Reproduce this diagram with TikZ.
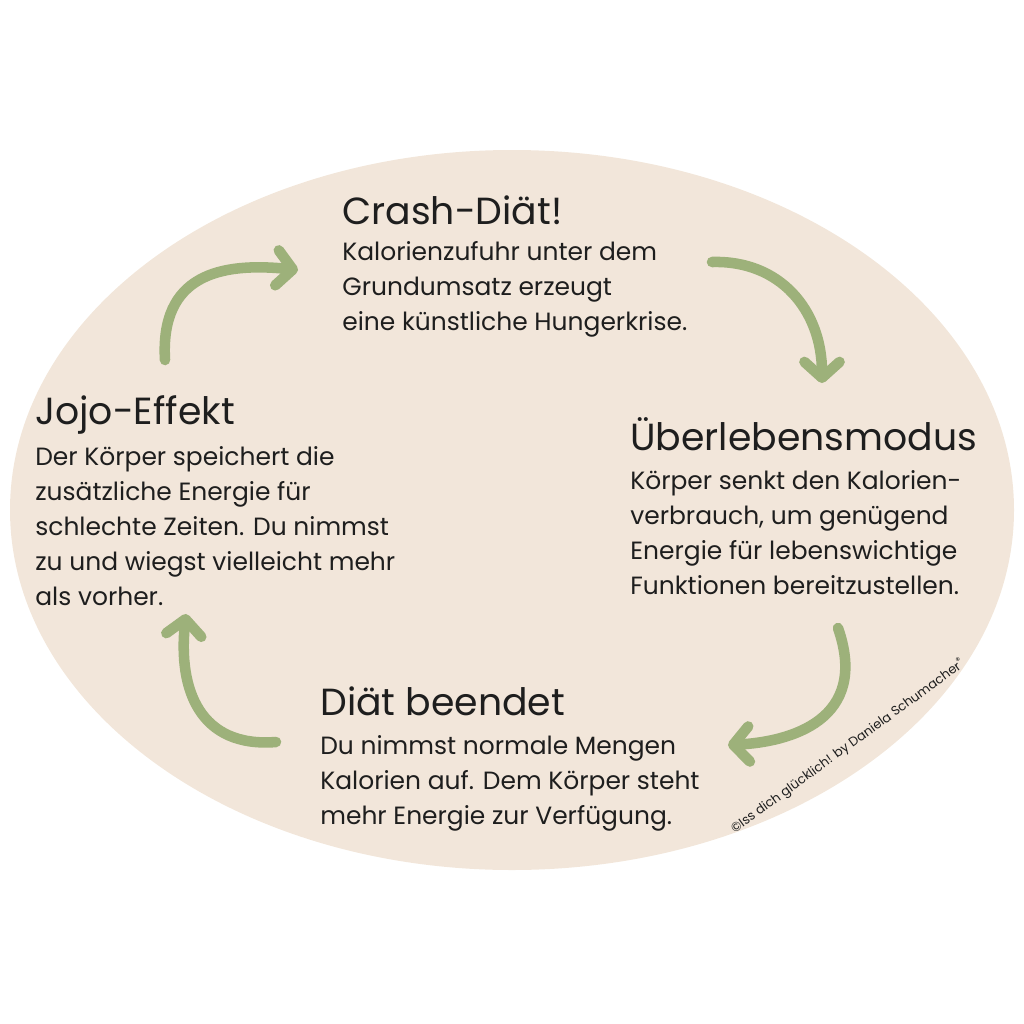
\documentclass[tikz,border=0pt]{standalone}
\usepackage{fontspec}
\setmainfont{Poppins}
\usetikzlibrary{arrows.meta,positioning}
\definecolor{bgbeige}{HTML}{F2E6DA}
\definecolor{leafgreen}{HTML}{9DB17A}
\definecolor{inkgray}{HTML}{1E1E1E}

\begin{document}
\begin{tikzpicture}[x=0.02cm, y=-0.02cm,
    heading/.style = {anchor=base west, inner sep=0pt, font=\fontsize{21.5}{24}\selectfont, text=inkgray},
    body/.style = {anchor=base west, inner sep=0pt, align=left, font=\fontsize{14.2}{19.85}\selectfont, text=inkgray},
    cycle/.style = {draw=leafgreen, line width=6pt, line cap=round, -{Straight Barb[length=9pt,width=20pt,line width=6pt,round]}}
]
\useasboundingbox (0,0) rectangle (1024,1024);
\fill[bgbeige] (512,510) ellipse [x radius=502, y radius=360];

% Texts (base anchor = last line)
\node (crashT) [heading] at (342,224) {Crash-Diät!};
\node (crashB) [body] at (342,330) {Kalorienzufuhr unter dem\\Grundumsatz erzeugt\\eine künstliche Hungerkrise.};
\node (survT) [heading] at (630,450) {Überlebensmodus};
\node (survB) [body] at (630,594) {Körper senkt den Kalorien-\\verbrauch, um genügend\\Energie für lebenswichtige\\Funktionen bereitzustellen.};
\node (endT) [heading] at (320,715) {Diät beendet};
\node (endB) [body] at (320,824) {Du nimmst normale Mengen\\Kalorien auf. Dem Körper steht\\mehr Energie zur Verfügung.};
\node (jojoT) [heading] at (35,424) {Jojo-Effekt};
\node (jojoB) [body] at (35,605) {Der Körper speichert die\\zusätzliche Energie für\\schlechte Zeiten. Du nimmst\\zu und wiegst vielleicht mehr\\als vorher.};
\node (credit) [rotate=36, font=\fontsize{7.3}{8}\selectfont, text=inkgray] at (848,746) {\textcopyright Iss dich glücklich! by Daniela Schumacher\textsuperscript{®}};

% Arrows
\coordinate (a1s) at (165,360); \coordinate (a1e) at (298,270);
\coordinate (a2s) at (712,262); \coordinate (a2e) at (822,383);
\coordinate (a3s) at (838,628); \coordinate (a3e) at (728,745);
\coordinate (a4s) at (276,742); \coordinate (a4e) at (186,614);
\draw [cycle] (a1s) .. controls (160,275) and (220,262) .. (a1e);
\draw [cycle] (a2s) .. controls (780,260) and (822,310) .. (a2e);
\draw [cycle] (a3s) .. controls (870,720) and (790,742) .. (a3e);
\draw [cycle] (a4s) .. controls (200,748) and (178,690) .. (a4e);
\end{tikzpicture}
\end{document}
